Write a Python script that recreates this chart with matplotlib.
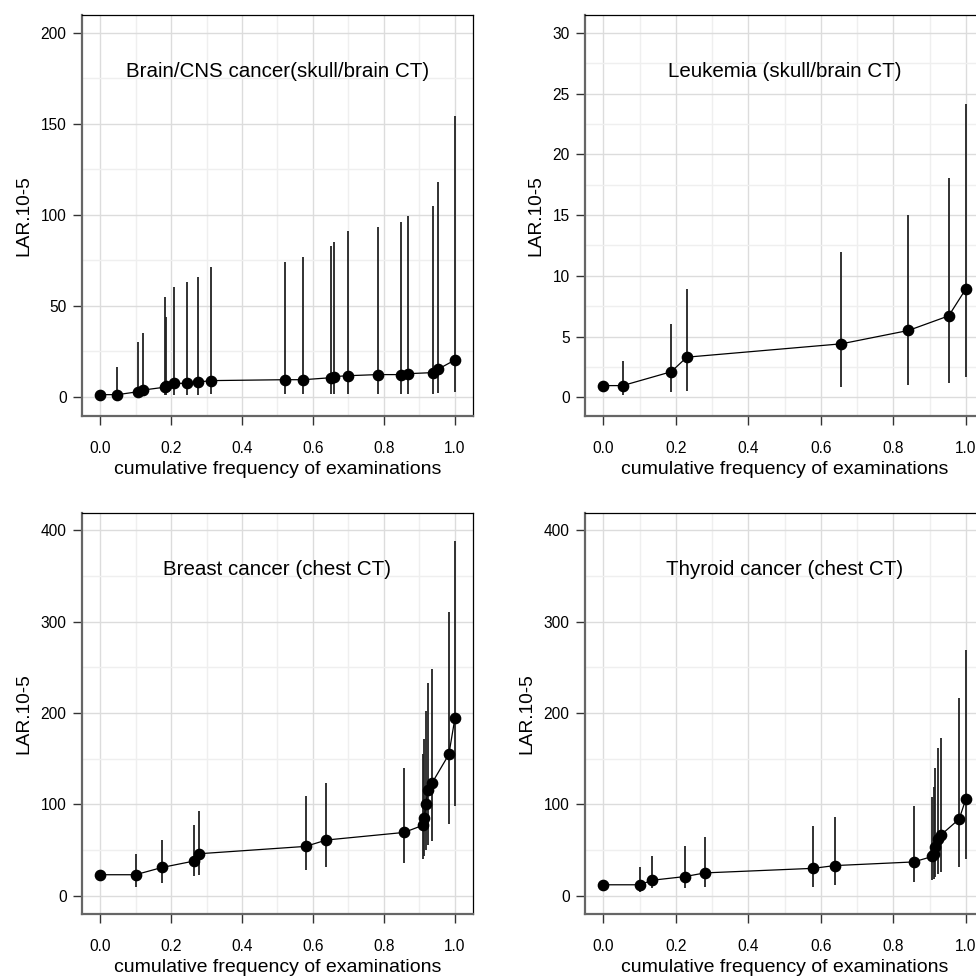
import numpy as np
import matplotlib
matplotlib.use("Agg")
import matplotlib.pyplot as plt
from matplotlib.ticker import MultipleLocator

plt.rcParams['font.family'] = ['Liberation Sans', 'DejaVu Sans']

# Brain/CNS cancer (skull/brain CT)
brain_x = [0.000, 0.049, 0.107, 0.120, 0.183, 0.187, 0.207, 0.246, 0.277, 0.312, 0.522,
           0.573, 0.651, 0.658, 0.700, 0.782, 0.849, 0.867, 0.939, 0.952, 1.000]
brain_y = [1.3, 1.3, 2.9, 3.8, 5.4, 6.0, 7.5, 7.5, 8.2, 9.0, 9.5,
           9.5, 10.6, 11.2, 11.7, 12.3, 12.3, 12.8, 13.4, 15.2, 20.3]
brain_lo = [1.0, 0.3, 0.8, 1.0, 1.0, 1.2, 1.2, 1.2, 1.2, 1.5, 1.6,
            1.6, 1.8, 1.8, 1.8, 1.8, 1.8, 1.8, 1.8, 2.0, 2.9]
brain_hi = [1.6, 16.3, 30.4, 35.3, 54.8, 43.8, 60.6, 63.2, 65.8, 71.6, 74.0,
            77.1, 83.0, 85.2, 91.2, 93.4, 96.2, 99.3, 104.9, 118.1, 154.0]

# Leukemia (skull/brain CT)
leuk_x = [0.000, 0.053, 0.187, 0.230, 0.657, 0.842, 0.953, 1.000]
leuk_y = [0.96, 0.96, 2.1, 3.3, 4.4, 5.5, 6.7, 8.9]
leuk_lo = [0.96, 0.2, 0.4, 0.55, 0.85, 1.0, 1.2, 1.65]
leuk_hi = [0.96, 2.95, 6.0, 8.9, 11.95, 15.0, 18.05, 24.1]

# Breast cancer (chest CT)
breast_x = [0.000, 0.100, 0.175, 0.265, 0.280, 0.579, 0.638, 0.857,
            0.909, 0.914, 0.918, 0.925, 0.935, 0.983, 1.000]
breast_y = [23, 23, 31, 38, 46, 54, 61, 69.3, 77, 85.5, 100.5, 116, 123, 154.6, 194]
breast_lo = [23, 10, 14, 22, 23, 28, 32, 36, 40, 44, 50, 55, 60, 79, 98]
breast_hi = [23, 46, 61, 77, 93, 108.7, 123.6, 140, 155, 171, 202, 233, 248, 311, 388]

# Thyroid cancer (chest CT)
thyr_x = [0.000, 0.100, 0.135, 0.225, 0.280, 0.579, 0.638, 0.856,
          0.908, 0.912, 0.916, 0.924, 0.933, 0.982, 1.000]
thyr_y = [12, 12, 17, 21, 25, 30, 33, 37, 43, 46, 53, 62, 67, 84, 105.4]
thyr_lo = [12, 4, 8, 8, 10, 10, 12, 15, 17, 18, 20, 24, 26, 32, 40]
thyr_hi = [12, 32, 43, 54, 64, 76, 86, 97.7, 107.6, 119, 140, 162, 173, 216, 269]

panels = [
    ("Brain/CNS cancer(skull/brain CT)", brain_x, brain_y, brain_lo, brain_hi,
     [0.084, 0.5738, 0.4006, 0.411], (-10.4, 209.7), 50),
    ("Leukemia (skull/brain CT)", leuk_x, leuk_y, leuk_lo, leuk_hi,
     [0.5994, 0.5738, 0.409, 0.411], (-1.54, 31.48), 5),
    ("Breast cancer (chest CT)", breast_x, breast_y, breast_lo, breast_hi,
     [0.084, 0.0635, 0.4006, 0.411], (-20.0, 419.0), 100),
    ("Thyroid cancer (chest CT)", thyr_x, thyr_y, thyr_lo, thyr_hi,
     [0.5994, 0.0635, 0.409, 0.411], (-20.0, 419.0), 100),
]

fig = plt.figure(figsize=(9.76, 9.76), dpi=100)

for title, x, y, lo, hi, pos, ylim, ystep in panels:
    ax = fig.add_axes(pos)
    ax.set_xlim(-0.051, 1.051)
    ax.set_ylim(*ylim)
    ax.xaxis.set_major_locator(MultipleLocator(0.2))
    ax.xaxis.set_minor_locator(MultipleLocator(0.1))
    ax.yaxis.set_major_locator(MultipleLocator(ystep))
    ax.yaxis.set_minor_locator(MultipleLocator(ystep / 2))
    ax.grid(which='major', color='#dcdcdc', lw=1.0, zorder=0)
    ax.grid(which='minor', color='#efefef', lw=1.0, zorder=0)
    ax.set_axisbelow(True)
    ax.tick_params(which='minor', length=0)
    ax.tick_params(which='major', direction='out', length=6.3, width=1.0,
                   color='#333333', labelsize=11.2)
    ax.tick_params(axis='x', pad=11.5)
    ax.tick_params(axis='y', pad=4.8)
    ax.set_xticklabels([f"{v:.1f}" for v in ax.get_xticks()])

    ax.vlines(x, lo, hi, color='#222222', lw=1.3, zorder=2)
    ax.plot(x, y, color='black', lw=0.9, marker='o', ms=7.4, zorder=3)

    ax.text(0.5, 0.858, title, transform=ax.transAxes, ha='center', va='center',
            fontsize=14.8)
    ax.set_xlabel("cumulative frequency of examinations", fontsize=14, labelpad=3.5)
    ax.set_ylabel("LAR.10-5", fontsize=13.8, labelpad=6)

    for side in ('left', 'bottom'):
        ax.spines[side].set_color('#666666')
        ax.spines[side].set_linewidth(1.6)
    for side in ('top', 'right'):
        ax.spines[side].set_color('black')
        ax.spines[side].set_linewidth(0.9)

fig.savefig("out.png", dpi=100)
